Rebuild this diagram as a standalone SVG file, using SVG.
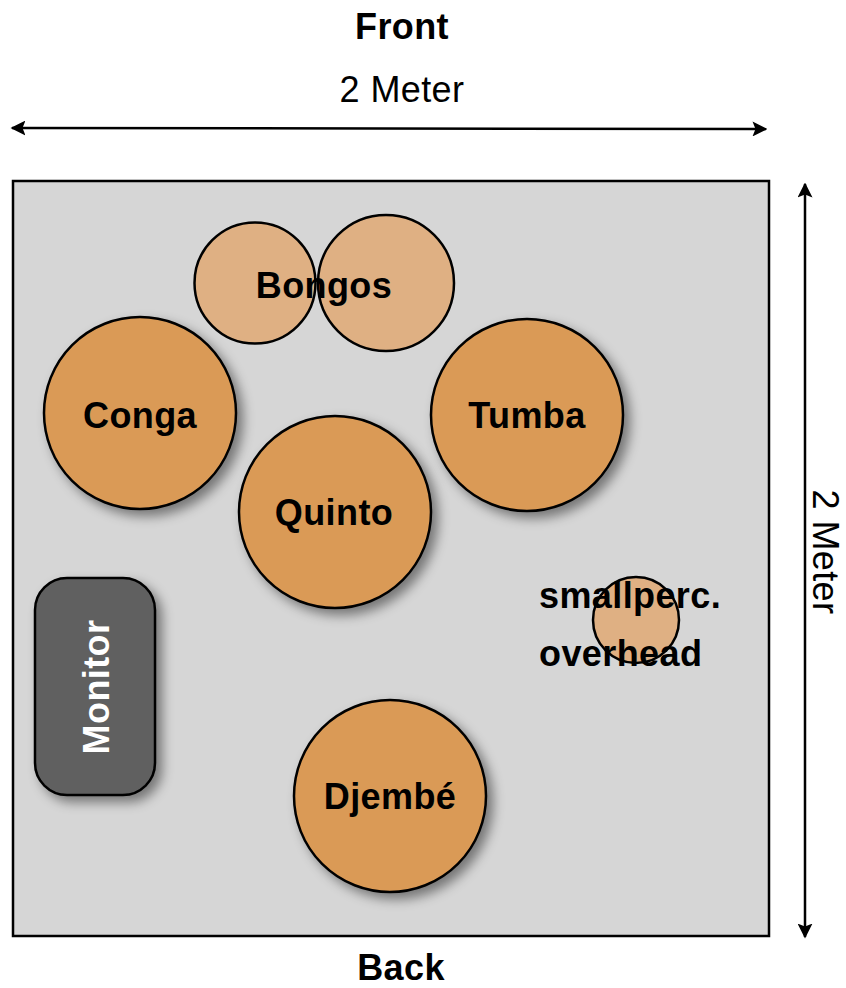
<svg xmlns="http://www.w3.org/2000/svg" width="846" height="988" viewBox="0 0 846 988">
<defs>
<style>
text{font-family:"Liberation Sans",Arial,sans-serif;font-size:36px;letter-spacing:0.4px;text-anchor:middle;fill:#000}
.b{font-weight:bold}
.drum{fill:#DA9A56;stroke:#000;stroke-width:2.5}
.small{fill:#DFB083;stroke:#000;stroke-width:2.5}
.dim{stroke:#000;stroke-width:2.5;fill:none}
</style>
<filter id="sh" x="-30%" y="-30%" width="170%" height="170%">
<feDropShadow dx="6" dy="6" stdDeviation="6" flood-color="#000" flood-opacity="0.45"/>
</filter>
<marker id="ah" viewBox="0 0 10 10" refX="9" refY="5" markerWidth="6" markerHeight="6" orient="auto-start-reverse" markerUnits="strokeWidth">
<path d="M0,0 L10,5 L0,10 L2,5 Z" fill="#000"/>
</marker>
</defs>
<rect id="stage" x="13" y="181" width="756" height="755" fill="#D6D6D6" stroke="#000" stroke-width="2.5"/>
<g id="labels">
<text class="b" x="402" y="39">Front</text>
<text x="402" y="102">2 Meter</text>
<text class="b" x="401" y="980">Back</text>
<text transform="translate(813,552) rotate(90)">2 Meter</text>
</g>
<g id="connectors">
<line class="dim" x1="12" y1="128" x2="766" y2="129" marker-start="url(#ah)" marker-end="url(#ah)"/>
<line class="dim" x1="805" y1="184" x2="805" y2="937" marker-start="url(#ah)" marker-end="url(#ah)"/>
</g>
<g id="bongos">
<circle class="small" cx="255" cy="283" r="60.5"/>
<circle class="small" cx="386" cy="283" r="68"/>
<text class="b" x="324" y="298">Bongos</text>
</g>
<g id="conga">
<circle class="drum" cx="140" cy="413" r="96" filter="url(#sh)"/>
<text class="b" x="140" y="428">Conga</text>
</g>
<g id="tumba">
<circle class="drum" cx="527" cy="415" r="96" filter="url(#sh)"/>
<text class="b" x="527" y="428">Tumba</text>
</g>
<g id="quinto">
<circle class="drum" cx="335" cy="512" r="96" filter="url(#sh)"/>
<text class="b" x="334" y="525">Quinto</text>
</g>
<g id="djembe">
<circle class="drum" cx="390" cy="796" r="96" filter="url(#sh)"/>
<text class="b" x="390" y="809">Djembé</text>
</g>
<g id="smallperc">
<circle class="small" cx="636" cy="620" r="43"/>
<text class="b" x="539" y="608" style="text-anchor:start">smallperc.</text>
<text class="b" x="539" y="666" style="text-anchor:start">overhead</text>
</g>
<g id="monitor">
<rect x="35" y="578" width="120" height="217" rx="32" fill="#606060" stroke="#000" stroke-width="2.5" filter="url(#sh)"/>
<text class="b" transform="translate(109,687) rotate(-90)" style="fill:#fff">Monitor</text>
</g>
</svg>
